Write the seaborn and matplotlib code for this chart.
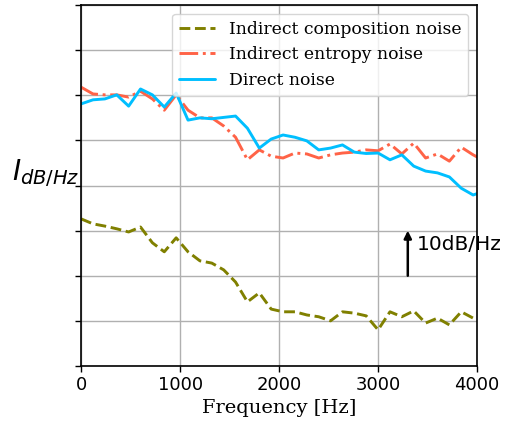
import numpy as np
import pandas as pd
import matplotlib
matplotlib.use("Agg")
import matplotlib.pyplot as plt
import seaborn as sns

# Frequency grid [Hz]
freq = [0, 120, 240, 360, 480, 600, 720, 840, 960, 1080, 1200, 1320, 1440,
        1560, 1680, 1800, 1920, 2040, 2160, 2280, 2400, 2520, 2640, 2760,
        2880, 3000, 3120, 3240, 3360, 3480, 3600, 3720, 3840, 3960, 4080]

# Spectral levels [dB/Hz, arbitrary offset]
composition = [32.6, 31.5, 31.0, 30.4, 29.7, 30.8, 27.3, 25.3, 28.4, 25.3,
               23.3, 22.8, 21.3, 18.6, 14.2, 16.2, 12.6, 12.0, 12.0, 11.3,
               10.9, 10.0, 12.0, 11.7, 11.1, 8.0, 12.0, 10.9, 12.2, 9.5,
               10.6, 9.1, 12.0, 10.6, 9.3]
entropy = [61.8, 60.3, 60.1, 60.1, 59.6, 60.9, 59.2, 56.7, 60.1, 56.7,
           55.0, 55.0, 53.2, 50.7, 45.7, 47.9, 46.5, 46.1, 47.2, 47.0,
           46.1, 46.8, 47.2, 47.4, 47.9, 47.7, 49.2, 47.0, 49.4, 46.1,
           47.0, 45.4, 48.5, 46.8, 45.4]
direct = [58.1, 59.0, 59.2, 60.1, 57.6, 61.4, 60.1, 57.4, 60.5, 54.5,
          55.0, 54.8, 55.1, 55.4, 52.7, 48.3, 50.3, 51.2, 50.7, 49.9,
          47.9, 48.3, 49.0, 47.4, 47.1, 47.2, 45.7, 46.8, 44.3, 43.2,
          42.8, 41.9, 39.4, 37.9, 38.8]

series_labels = ["Indirect composition noise", "Indirect entropy noise", "Direct noise"]
x_ticks = [0, 1000, 2000, 3000, 4000]
scale_bar = [20, 30]  # 10 dB reference arrow

sns.set_theme(style="whitegrid")
plt.rcParams["font.family"] = ["DejaVu Sans"]
plt.rcParams["text.color"] = "black"
plt.rcParams["axes.labelcolor"] = "black"
plt.rcParams["xtick.color"] = "black"
plt.rcParams["ytick.color"] = "black"

fig = plt.figure(figsize=(5.07, 4.25), dpi=100)
ax = fig.add_axes([0.160, 0.139, 0.781, 0.849])

df = pd.DataFrame({"freq": freq, "comp": composition, "ent": entropy, "dir": direct})

sns.lineplot(data=df, x="freq", y="comp", ax=ax, color="olive", lw=2.1,
             linestyle="--", label=series_labels[0])
sns.lineplot(data=df, x="freq", y="ent", ax=ax, color="tomato", lw=2.1,
             linestyle="-.", label=series_labels[1])
sns.lineplot(data=df, x="freq", y="dir", ax=ax, color="deepskyblue", lw=2.1,
             linestyle="-", label=series_labels[2])

ax.set_xlim(0, 4000)
ax.set_ylim(0, 80)
ax.set_xticks(x_ticks)
ax.set_xticklabels([str(t) for t in x_ticks], fontsize=13)
ax.set_yticks(np.arange(0, 81, 10))
ax.set_yticklabels([])
ax.tick_params(axis="both", which="both", direction="out", length=4, width=1,
               color="black", left=True, bottom=True)
ax.grid(True, color="#b0b0b0", lw=1)
for s in ax.spines.values():
    s.set_color("black")
    s.set_linewidth(1.2)

ax.set_xlabel("Frequency [Hz]", family="DejaVu Serif", fontsize=14, labelpad=3)
ax.set_ylabel(r"$I_{dB/Hz}$", fontsize=20, rotation=0, labelpad=8)
ax.yaxis.set_label_coords(-0.09, 0.49)

ax.annotate("", xy=(3300, scale_bar[1]), xytext=(3300, scale_bar[0]),
            arrowprops=dict(arrowstyle="-|>", color="black", lw=1.8,
                            mutation_scale=11, shrinkA=0, shrinkB=0))
ax.text(3390, 26.9, "10dB/Hz", fontsize=14.5, va="center", ha="left",
        clip_on=False)

leg = ax.legend(loc="upper right", prop={"family": "DejaVu Serif", "size": 12.4},
                frameon=True, fancybox=True, framealpha=0.8,
                borderaxespad=0.5, handlelength=2.1, handletextpad=0.8,
                labelspacing=0.5, borderpad=0.4)
leg.get_frame().set_edgecolor("#cccccc")

fig.savefig("out.png", dpi=100, facecolor="white")
